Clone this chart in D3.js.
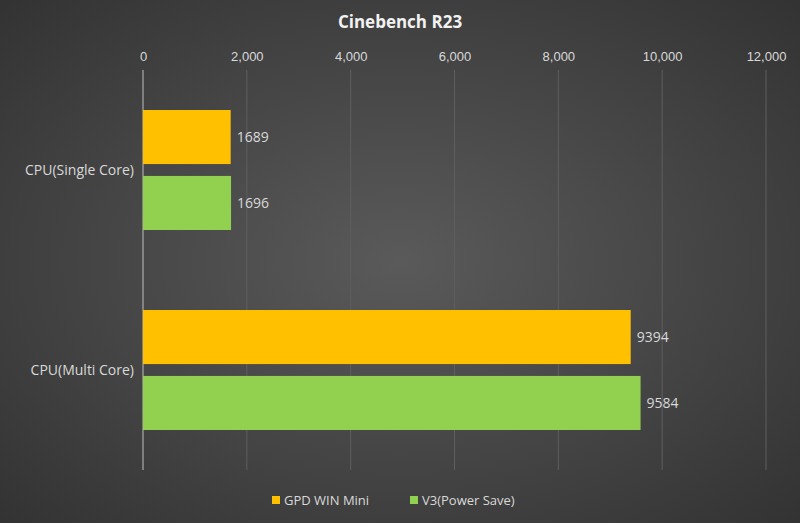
<!DOCTYPE html><html><head><meta charset="utf-8">
<script src="https://d3js.org/d3.v7.min.js"></script>
<style>body{margin:0;background:#404040}</style></head><body>
<script>
const categories=["CPU(Single Core)","CPU(Multi Core)"];
const seriesNames=["GPD WIN Mini","V3(Power Save)"];
const gpdValues=[1689,9394];
const v3Values=[1696,9584];
const xTicks=[0,2000,4000,6000,8000,10000,12000];
const colors=["#FFC000","#92D050"];
const W=800,H=523;
const svg=d3.select("body").append("svg").attr("width",W).attr("height",H).style("font-family","'Open Sans',sans-serif");
const g=svg.append("defs").append("radialGradient").attr("id","bg").attr("cx","50%").attr("cy","50%").attr("r","70%");
g.append("stop").attr("offset","0%").attr("stop-color","#5a5a5a");
g.append("stop").attr("offset","100%").attr("stop-color","#333");
svg.append("rect").attr("width",W).attr("height",H).attr("fill","url(#bg)");
const x=d3.scaleLinear().domain([0,12000]).range([143,766]);
const y=d3.scaleBand().domain(categories).range([70,470]);
const yi=d3.scaleBand().domain(seriesNames).range([40,160]).paddingInner(0.18);
svg.append("text").attr("x",400).attr("y",28).attr("text-anchor","middle").attr("fill","#f2f2f2").attr("font-size",17).attr("font-weight","bold").text("Cinebench R23");
const ax=svg.append("g").attr("transform","translate(0,70)").call(d3.axisTop(x).tickValues(xTicks).tickSize(0).tickPadding(9));
ax.select(".domain").remove();
ax.selectAll("text").attr("fill","#d9d9d9").attr("font-size",13);
svg.append("g").selectAll("line").data(xTicks.slice(1)).join("line").attr("x1",d=>x(d)).attr("x2",d=>x(d)).attr("y1",70).attr("y2",470).attr("stroke","#5e5e5e");
svg.append("line").attr("x1",x(0)).attr("x2",x(0)).attr("y1",70).attr("y2",470).attr("stroke","#bfbfbf");
const data=[gpdValues,v3Values];
categories.forEach((c,ci)=>{
 seriesNames.forEach((s,si)=>{
  const v=data[si][ci],yy=y(c)+yi(s);
  svg.append("rect").attr("x",x(0)).attr("y",yy).attr("width",x(v)-x(0)).attr("height",yi.bandwidth()).attr("fill",colors[si]);
  svg.append("text").attr("x",x(v)+6).attr("y",yy+yi.bandwidth()/2+5).attr("fill","#d9d9d9").attr("font-size",14).text(v);
 });
 svg.append("text").attr("x",134).attr("y",y(c)+y.bandwidth()/2+5).attr("text-anchor","end").attr("fill","#d9d9d9").attr("font-size",14).text(c);
});
const lg=svg.append("g");
let lx=[272,410];
seriesNames.forEach((s,i)=>{
 lg.append("rect").attr("x",lx[i]).attr("y",496).attr("width",8).attr("height",8).attr("fill",colors[i]);
 lg.append("text").attr("x",lx[i]+12).attr("y",505).attr("fill","#d9d9d9").attr("font-size",13).text(s);
});
</script></body></html>
